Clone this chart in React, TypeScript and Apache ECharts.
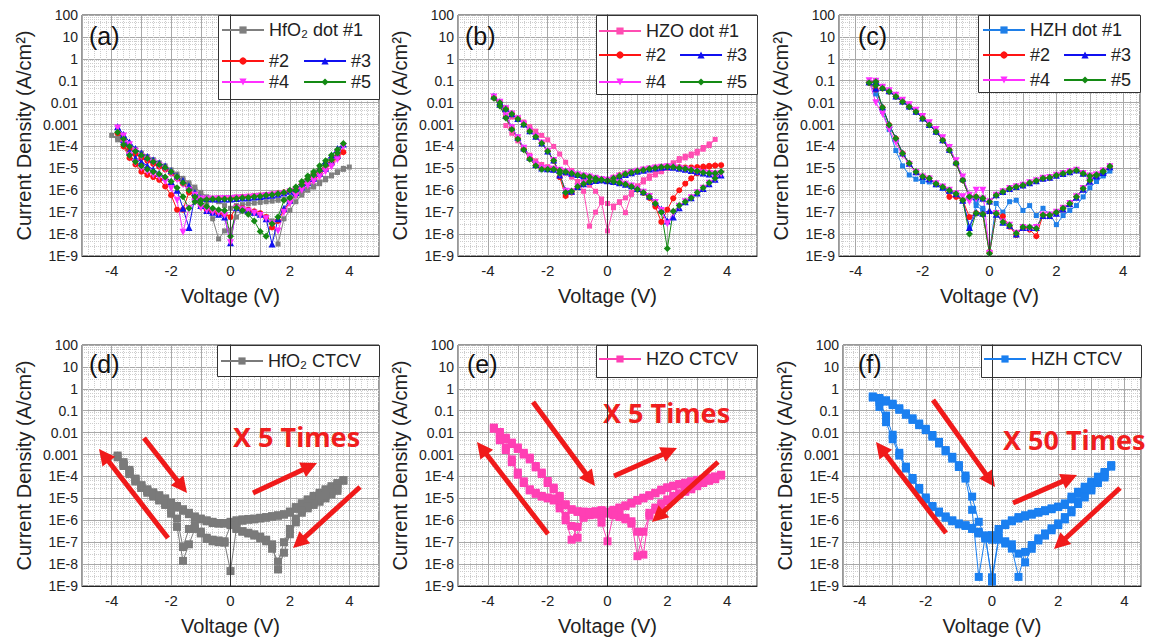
import React, { useEffect, useRef } from 'react';
import * as echarts from 'echarts';

// ---------- voltage sweeps (0 -> +Vmax -> 0 -> -Vmax -> 0) ----------
const X40 = [0,0.2,0.4,0.6,0.8,1,1.2,1.4,1.6,1.8,2,2.2,2.4,2.6,2.8,3,3.2,3.4,3.6,3.8,4,
  3.8,3.6,3.4,3.2,3,2.8,2.6,2.4,2.2,2,1.8,1.6,1.4,1.2,1,0.8,0.6,0.4,0.2,0,
  -0.2,-0.4,-0.6,-0.8,-1,-1.2,-1.4,-1.6,-1.8,-2,-2.2,-2.4,-2.6,-2.8,-3,-3.2,-3.4,-3.6,-3.8,-4,
  -3.8,-3.6,-3.4,-3.2,-3,-2.8,-2.6,-2.4,-2.2,-2,-1.8,-1.6,-1.4,-1.2,-1,-0.8,-0.6,-0.4,-0.2];
const X38 = [0,0.2,0.4,0.6,0.8,1,1.2,1.4,1.6,1.8,2,2.2,2.4,2.6,2.8,3,3.2,3.4,3.6,3.8,
  3.6,3.4,3.2,3,2.8,2.6,2.4,2.2,2,1.8,1.6,1.4,1.2,1,0.8,0.6,0.4,0.2,0,
  -0.2,-0.4,-0.6,-0.8,-1,-1.2,-1.4,-1.6,-1.8,-2,-2.2,-2.4,-2.6,-2.8,-3,-3.2,-3.4,-3.6,-3.8,
  -3.6,-3.4,-3.2,-3,-2.8,-2.6,-2.4,-2.2,-2,-1.8,-1.6,-1.4,-1.2,-1,-0.8,-0.6,-0.4,-0.2];
const X36 = [0,0.2,0.4,0.6,0.8,1,1.2,1.4,1.6,1.8,2,2.2,2.4,2.6,2.8,3,3.2,3.4,3.6,
  3.4,3.2,3,2.8,2.6,2.4,2.2,2,1.8,1.6,1.4,1.2,1,0.8,0.6,0.4,0.2,0,
  -0.2,-0.4,-0.6,-0.8,-1,-1.2,-1.4,-1.6,-1.8,-2,-2.2,-2.4,-2.6,-2.8,-3,-3.2,-3.4,-3.6,
  -3.4,-3.2,-3,-2.8,-2.6,-2.4,-2.2,-2,-1.8,-1.6,-1.4,-1.2,-1,-0.8,-0.6,-0.4,-0.2];
const XP = [0,0.2,0.4,0.6,0.8,1,1.2,1.4,1.6,1.8,2,2.2,2.4,2.6,2.8,3,3.2,3.4,3.6,
  3.4,3.2,3,2.8,2.6,2.4,2.2,2,1.8,1.6,1.4,1.2,1,0.8,0.6,0.4,0.2,0,
  -0.2,-0.4,-0.6,-0.8,-1,-1.2,-1.4,-1.6,-1.8,-2,-2.2,-2.4,-2.6,-2.8,-3,-3.2,-3.4,
  -3.2,-3,-2.8,-2.6,-2.4,-2.2,-2,-1.8,-1.6,-1.4,-1.2,-1,-0.8,-0.6,-0.4,-0.2];

// ---------- (a) HfO2 dots ----------
const A_D1 = [1.5e-7,2e-7,2.2e-7,2.4e-7,2.6e-7,2.8e-7,3e-7,3.2e-7,3.5e-7,3.8e-7,4.2e-7,5.5e-7,7.5e-7,1e-6,1.4e-6,2e-6,3e-6,4.5e-6,6.5e-6,9e-6,1.15e-5,
  1e-5,7e-6,5e-6,3.5e-6,2.4e-6,1.6e-6,1.1e-6,6e-7,3e-7,1.2e-7,5e-8,3.5e-9,4e-8,6e-8,8e-8,9e-8,1e-7,1.1e-7,6e-8,1.5e-8,
  1.4e-8,6e-9,5e-8,2.5e-7,6e-7,1.1e-6,1.8e-6,2.8e-6,4.2e-6,6.5e-6,1e-5,1.4e-5,2e-5,2.8e-5,4e-5,5.5e-5,8e-5,1.3e-4,2e-4,3.2e-4,
  2.5e-4,1.7e-4,1.1e-4,7e-5,5e-5,3.5e-5,2.5e-5,1.8e-5,1.3e-5,8.5e-6,5.5e-6,3.5e-6,2.2e-6,1.4e-6,8e-7,5e-7,4e-7,3e-7,2e-7];
const A_D2 = [4.5e-7,4.7e-7,5e-7,5.2e-7,5.5e-7,5.8e-7,6.2e-7,6.6e-7,7.2e-7,8e-7,9.5e-7,1.2e-6,1.8e-6,3e-6,5e-6,8e-6,1.3e-5,2e-5,3.5e-5,5.5e-5,
  3e-5,1.6e-5,9e-6,5e-6,3e-6,2e-6,1.3e-6,7e-7,3e-7,1.2e-7,4e-8,2e-8,6e-8,9e-8,1.1e-7,1.3e-7,1.5e-7,1.7e-7,6e-8,
  8e-8,9e-8,1.1e-7,1.3e-7,1.8e-7,4e-7,8e-7,1.3e-7,1.3e-7,6e-7,1.5e-6,3e-6,4e-6,5e-6,7e-6,1.5e-5,3e-5,1e-4,4e-4,
  2e-4,8e-5,4.5e-5,3e-5,2.2e-5,1.6e-5,1.2e-5,9e-6,6e-6,3.5e-6,2e-6,1e-6,5e-7,3.5e-7,4e-7,4.2e-7,4.3e-7,4.4e-7];
const A_D3 = [4e-7,4.2e-7,4.4e-7,4.6e-7,4.9e-7,5.2e-7,5.6e-7,6e-7,6.6e-7,7.5e-7,9e-7,1.2e-6,2e-6,3.5e-6,6e-6,1e-5,2e-5,4e-5,8e-5,1.3e-4,
  4e-5,2e-5,1e-5,6e-6,3.5e-6,2.2e-6,1.4e-6,8e-7,3.5e-7,1.5e-7,5e-8,3.5e-9,5e-8,8e-8,1e-7,1.2e-7,1.4e-7,1.6e-7,4e-9,
  6e-8,8e-8,1e-7,1.2e-7,2e-7,5e-7,2e-8,1.5e-7,1e-6,2.5e-6,4e-6,6e-6,9e-6,1.3e-5,2e-5,3e-5,6e-5,2e-4,8e-4,
  3.5e-4,1.6e-4,8e-5,5e-5,3.5e-5,2.5e-5,1.8e-5,1.3e-5,8e-6,4.5e-6,2.8e-6,1.6e-6,8e-7,4.5e-7,4.2e-7,4e-7,4e-7,4e-7];
const A_D4 = [4.2e-7,4.4e-7,4.6e-7,4.8e-7,5e-7,5.3e-7,5.7e-7,6.1e-7,6.6e-7,7.2e-7,8.5e-7,1e-6,1.4e-6,2.2e-6,3.5e-6,6e-6,1e-5,2e-5,4.5e-5,1e-4,
  2.5e-5,1.2e-5,7e-6,4e-6,2.5e-6,1.6e-6,1e-6,5.5e-7,2.5e-7,1e-7,1.4e-8,3e-8,5e-8,7e-8,9e-8,1.1e-7,1.3e-7,1.5e-7,4e-9,
  7e-8,9e-8,1e-7,1.2e-7,1.6e-7,3e-7,1.5e-7,1.2e-8,3.5e-7,1.2e-6,2.5e-6,4e-6,5e-6,7e-6,1e-5,1.8e-5,4e-5,1.5e-4,7e-4,
  3e-4,1.2e-4,6e-5,3.5e-5,2.5e-5,1.8e-5,1.3e-5,9e-6,5.5e-6,3e-6,1.8e-6,1e-6,6e-7,4e-7,4e-7,4e-7,4.1e-7,4.2e-7];
const A_D5 = [4e-7,4.2e-7,4.5e-7,4.7e-7,5e-7,5.4e-7,5.9e-7,6.3e-7,7e-7,8e-7,1e-6,1.4e-6,2.5e-6,4.5e-6,7e-6,1.3e-5,2.2e-5,4e-5,7e-5,1.35e-4,
  5e-5,2.5e-5,1.4e-5,8e-6,5e-6,3.2e-6,1.8e-6,1e-6,4.5e-7,3.5e-7,6e-8,3e-8,8e-9,1.3e-8,4e-8,8e-8,1.2e-7,1.6e-7,8e-9,
  1.2e-7,1.3e-7,1.5e-7,1.8e-7,2.5e-7,3e-7,1.5e-7,5e-7,1.3e-6,2.5e-6,4e-6,5.5e-6,7e-6,9e-6,1.3e-5,2e-5,4e-5,1.2e-4,4.5e-4,
  2.2e-4,1e-4,6e-5,4e-5,2.8e-5,2e-5,1.5e-5,1.1e-5,7e-6,4e-6,2.2e-6,1e-6,5e-7,3.5e-7,3.8e-7,4e-7,4e-7,4e-7];

// ---------- (b) HZO dots ----------
const B_D1 = [2.5e-7,1.9e-7,2.8e-7,9.5e-8,6.5e-7,1.6e-6,3e-6,4.5e-6,6e-6,8e-6,1.1e-5,1.8e-5,2.8e-5,3.6e-5,4.5e-5,6e-5,9e-5,1.3e-4,2.1e-4,
  1.1e-4,7.5e-5,5e-5,3.8e-5,3e-5,2.3e-5,1.6e-5,1e-5,7e-6,5e-6,3.5e-6,2.4e-6,1.4e-6,8e-7,4.5e-7,3e-7,1.6e-7,1.4e-8,
  2.8e-7,1e-7,2.3e-8,9e-7,2.5e-6,4e-6,6e-6,8e-6,1e-5,1.2e-5,1.5e-5,2.2e-5,4e-5,9e-5,1.8e-4,4e-4,9e-4,
  2.2e-3,1.7e-3,1.3e-3,8e-4,5e-4,3.2e-4,2e-4,1e-4,4.5e-5,1.9e-5,8e-6,5e-6,3e-6,1.7e-6,9e-7,4e-7];
const B_D2 = [3e-6,3.8e-6,4.8e-6,5.8e-6,6.8e-6,7.8e-6,8.8e-6,9.8e-6,1.08e-5,1.18e-5,1.25e-5,1.2e-5,1.15e-5,1.1e-5,1.1e-5,1.15e-5,1.2e-5,1.3e-5,1.35e-5,1.4e-5,
  1.35e-5,1.2e-5,9e-6,6e-6,3.5e-6,2e-6,1e-6,4.3e-7,1.3e-7,3.6e-8,1.8e-7,4.5e-7,7.5e-7,1.1e-6,1.5e-6,1.9e-6,2.2e-6,2.5e-6,2.7e-6,
  3e-6,3.5e-6,4e-6,4.5e-6,5e-6,6e-6,7e-6,8e-6,9e-6,9.5e-6,1e-5,1.4e-5,2.8e-5,7.5e-5,2.3e-4,6.5e-4,2.2e-3,7.5e-3,1.7e-2,
  1.1e-2,5.5e-3,3.2e-3,1.9e-3,1.05e-3,5.2e-4,2.9e-4,1.45e-4,6.2e-5,2.2e-5,4e-6,5.5e-7,8e-7,1.4e-6,1.9e-6,2.4e-6,2.7e-6,2.9e-6];
const B_D3 = [2.8e-6,3.4e-6,4.3e-6,5.3e-6,6.3e-6,7.3e-6,8.3e-6,9.3e-6,1.03e-5,1.12e-5,1.18e-5,1.12e-5,1e-5,9e-6,8e-6,7e-6,6.2e-6,5.6e-6,5.2e-6,5e-6,
  3.2e-6,2e-6,1.2e-6,7.5e-7,4.5e-7,3e-7,1.6e-7,6e-8,4e-8,1.4e-7,3e-7,5.5e-7,8.5e-7,1.2e-6,1.6e-6,1.9e-6,2.2e-6,2.5e-6,2.7e-6,
  3e-6,3.5e-6,4e-6,4.6e-6,5.2e-6,6e-6,7e-6,8.2e-6,9e-6,9.5e-6,1.05e-5,1.5e-5,3.2e-5,8.5e-5,2.6e-4,7.5e-4,2.6e-3,8.5e-3,2e-2,
  1.1e-2,5.5e-3,3.1e-3,1.9e-3,1.05e-3,5.2e-4,2.9e-4,1.45e-4,6.2e-5,2.4e-5,5e-6,1e-6,9e-7,1.5e-6,2e-6,2.5e-6,2.8e-6,3e-6];
const B_D4 = [2.9e-6,3.5e-6,4.4e-6,5.4e-6,6.4e-6,7.4e-6,8.4e-6,9.4e-6,1.04e-5,1.13e-5,1.19e-5,1.13e-5,1.02e-5,9.2e-6,8.2e-6,7.2e-6,6.3e-6,5.8e-6,5.5e-6,5.5e-6,
  3.3e-6,2.1e-6,1.25e-6,7.8e-7,4.6e-7,3e-7,1.8e-7,9e-8,3e-8,1.2e-7,2.8e-7,5.2e-7,8.2e-7,1.15e-6,1.55e-6,1.9e-6,2.2e-6,2.5e-6,2.7e-6,
  3e-6,3.5e-6,4e-6,4.5e-6,5.1e-6,6e-6,7e-6,8.1e-6,9e-6,9.3e-6,1.02e-5,1.45e-5,3.1e-5,8.2e-5,2.5e-4,7.2e-4,2.5e-3,8.2e-3,1.8e-2,
  1.05e-2,5.2e-3,3e-3,1.85e-3,1.02e-3,5.1e-4,2.85e-4,1.42e-4,6.1e-5,2.3e-5,5.5e-6,9e-7,8.5e-7,1.45e-6,2e-6,2.5e-6,2.8e-6,3e-6];
const B_D5 = [2.8e-6,3.5e-6,4.5e-6,5.5e-6,6.5e-6,7.5e-6,8.5e-6,9.5e-6,1.05e-5,1.15e-5,1.2e-5,1.15e-5,1.05e-5,9.5e-6,8.5e-6,7.5e-6,6.5e-6,6e-6,6e-6,7e-6,
  3.5e-6,2.2e-6,1.3e-6,8e-7,4.5e-7,3e-7,2e-7,1.1e-7,2.2e-9,1e-7,2.5e-7,5e-7,8e-7,1.1e-6,1.5e-6,1.9e-6,2.2e-6,2.5e-6,2.7e-6,
  3e-6,3.5e-6,4e-6,4.5e-6,5e-6,6e-6,7e-6,8e-6,9e-6,9e-6,9e-6,1.3e-5,2.6e-5,7e-5,2.2e-4,6e-4,2e-3,7e-3,1.6e-2,
  1e-2,5e-3,3e-3,1.8e-3,1e-3,5e-4,2.8e-4,1.4e-4,6e-5,2.3e-5,6e-6,8e-7,9e-7,1.5e-6,2e-6,2.5e-6,2.8e-6,3e-6];

// ---------- (c) HZH dots ----------
const C_D1 = [3e-7,6e-7,8.5e-7,1.2e-6,1.45e-6,1.7e-6,2.2e-6,2.7e-6,3.5e-6,3.8e-6,4.9e-6,5.9e-6,7e-6,8.3e-6,5.9e-6,4e-6,4e-6,5e-6,7.5e-6,
  4.5e-6,2.5e-6,1.3e-6,5e-7,2e-7,1.2e-7,7e-8,2.7e-8,8e-8,1.5e-7,7e-8,2e-7,1.2e-7,3.5e-7,3e-7,1e-7,2.5e-7,1.5e-9,
  1.2e-7,2e-7,2e-8,3.5e-7,6e-7,9e-7,1.2e-6,1.8e-6,2.4e-6,2.5e-6,3.2e-6,5e-6,1.3e-5,6.5e-5,6e-4,4e-3,2.5e-2,8e-2,
  9e-2,4.5e-2,3.2e-2,1.9e-2,1.1e-2,6.5e-3,3.8e-3,1.9e-3,9.5e-4,4.7e-4,1.9e-4,6.8e-5,1.7e-5,2.9e-6,5e-7,3e-7,1.5e-7];
const C_D2 = [3e-7,6e-7,8.5e-7,1.2e-6,1.45e-6,1.7e-6,2.2e-6,2.7e-6,3.5e-6,3.8e-6,4.9e-6,5.9e-6,7e-6,8.3e-6,5.9e-6,4.5e-6,5e-6,7.5e-6,1.2e-5,
  7e-6,4.8e-6,2.8e-6,1.2e-6,5e-7,2.5e-7,1.5e-7,1e-7,7.5e-8,7.5e-8,8e-9,1.6e-8,2e-8,9e-9,2.2e-8,6.5e-8,9e-8,1.5e-9,
  8e-8,9e-8,6e-8,3.5e-7,5e-7,5e-7,1.4e-6,2e-6,3.5e-6,4.2e-6,7e-6,1.7e-5,4.8e-5,2.3e-4,9.5e-4,6e-3,4e-2,8e-2,
  9e-2,4.5e-2,3.2e-2,1.9e-2,1.1e-2,6.5e-3,3.8e-3,1.9e-3,9.5e-4,4.7e-4,1.9e-4,6.8e-5,1.7e-5,2.9e-6,5e-7,5e-7,4.3e-7];
const C_D3 = [3.2e-7,6.2e-7,8.8e-7,1.2e-6,1.5e-6,1.75e-6,2.2e-6,2.7e-6,3.5e-6,3.9e-6,4.9e-6,5.9e-6,7e-6,8.5e-6,6e-6,4.6e-6,5e-6,7.5e-6,1.2e-5,
  6.5e-6,4.5e-6,2.6e-6,1.1e-6,4.8e-7,2.4e-7,1.4e-7,9e-8,7e-8,7e-8,2e-8,2e-8,2e-8,1e-8,2.5e-8,3.5e-8,8e-8,1.2e-7,
  9e-8,1e-7,2e-8,3.5e-7,7e-7,1e-6,1.4e-6,2e-6,3.4e-6,4.2e-6,7e-6,1.7e-5,5e-5,2.4e-4,1e-3,6.5e-3,4.5e-2,9e-2,
  9.5e-2,5e-2,3.5e-2,2e-2,1.2e-2,7e-3,4e-3,2e-3,1e-3,5e-4,2e-4,7.5e-5,2e-5,3.5e-6,6e-7,5e-7,4.3e-7];
const C_D4 = [3e-7,6e-7,8.5e-7,1.2e-6,1.45e-6,1.7e-6,2.2e-6,2.7e-6,3.5e-6,3.8e-6,4.9e-6,5.9e-6,7e-6,8.3e-6,5.9e-6,4.5e-6,5e-6,7.5e-6,1.2e-5,
  7e-6,4.8e-6,2.8e-6,1.2e-6,5e-7,2.5e-7,1.5e-7,1e-7,7.5e-8,7.5e-8,2e-8,1.8e-8,2e-8,1.1e-8,2.5e-8,3.6e-8,8.7e-8,1.3e-9,
  1e-6,1e-6,3e-7,5e-7,7e-7,1e-6,1.4e-6,2e-6,3.3e-6,4e-6,6.5e-6,1.5e-5,4e-5,1.5e-4,6e-4,3e-3,1e-2,1e-1,
  9.5e-2,5e-2,3.5e-2,2.2e-2,1.3e-2,8e-3,4.5e-3,2.3e-3,1.2e-3,6e-4,2.5e-4,9e-5,2.2e-5,4e-6,6e-7,4e-7,4e-7];
const C_D5 = [3e-7,6e-7,8.5e-7,1.2e-6,1.45e-6,1.7e-6,2.2e-6,2.7e-6,3.5e-6,3.8e-6,4.9e-6,5.9e-6,7e-6,8.3e-6,5.9e-6,4.5e-6,5e-6,7.5e-6,1.25e-5,
  7e-6,5e-6,2.9e-6,1.2e-6,5e-7,2.5e-7,1.5e-7,1e-7,7.4e-8,7.4e-8,1.8e-8,2.1e-8,2.1e-8,1.1e-8,2.5e-8,3.6e-8,8.7e-8,1.3e-9,
  8e-8,9e-8,1e-8,3.5e-7,7e-7,1e-6,1.4e-6,2e-6,3.5e-6,4.2e-6,7e-6,1.7e-5,4.8e-5,2.3e-4,9.5e-4,6e-3,6e-2,8e-2,
  9e-2,4.5e-2,3.2e-2,1.9e-2,1.1e-2,6.5e-3,3.8e-3,1.9e-3,9.5e-4,4.7e-4,1.9e-4,6.8e-5,1.7e-5,2.9e-6,5e-7,5e-7,4.3e-7];

// ---------- (d) HfO2 CTCV, two overlaid loops ----------
const D_L1 = [8.5e-7,1e-6,1.1e-6,1.15e-6,1.2e-6,1.3e-6,1.4e-6,1.55e-6,1.7e-6,1.9e-6,2.2e-6,3.3e-6,5e-6,8e-6,1.1e-5,1.5e-5,2.2e-5,3e-5,4.4e-5,6.3e-5,
  2.2e-5,1.5e-5,1e-5,7e-6,5e-6,3.5e-6,2.2e-6,8e-7,2.3e-7,3.3e-8,5.7e-9,8e-8,1.3e-7,1.8e-7,2.3e-7,2.7e-7,3.2e-7,4.5e-7,4.8e-9,
  9.5e-8,1e-7,1.1e-7,1.4e-7,2.5e-7,4e-7,8e-8,1.4e-8,5e-7,2e-6,5e-6,8e-6,1.2e-5,1.8e-5,3e-5,6e-5,1.5e-4,3.5e-4,7.5e-4,
  3e-4,1.3e-4,6e-5,3e-5,2.2e-5,1.6e-5,1.2e-5,8e-6,5.5e-6,3.8e-6,2.7e-6,1.9e-6,1.3e-6,1.1e-6,9e-7,7.5e-7,7e-7,7e-7];
const D_L2 = [7e-7,8.5e-7,9.5e-7,1.05e-6,1.1e-6,1.2e-6,1.3e-6,1.45e-6,1.6e-6,1.8e-6,2.5e-6,4e-6,6e-6,9e-6,1.3e-5,1.8e-5,2.6e-5,3.6e-5,5e-5,6.8e-5,
  2.8e-5,1.9e-5,1.3e-5,9e-6,6e-6,4.2e-6,2.8e-6,1.2e-6,4e-7,1e-7,1.3e-8,5e-8,1.1e-7,1.5e-7,2e-7,2.5e-7,3e-7,4e-7,6e-7,
  1.1e-7,1.2e-7,1.3e-7,1.6e-7,3e-7,6e-7,4e-7,6e-8,1.2e-6,3e-6,6e-6,9e-6,1.4e-5,2.2e-5,4e-5,8e-5,2e-4,4.5e-4,9e-4,
  3.5e-4,1.6e-4,7.5e-5,3.8e-5,2.6e-5,1.9e-5,1.4e-5,1e-5,6.5e-6,4.5e-6,3.2e-6,2.2e-6,1.5e-6,1.2e-6,1e-6,8.5e-7,7.5e-7,7.5e-7];

// ---------- (e) HZO CTCV ----------
const E_L1 = [2.5e-6,3e-6,3.8e-6,4.8e-6,6.3e-6,8.5e-6,1.07e-5,1.4e-5,1.8e-5,2.5e-5,3.2e-5,3.8e-5,4.5e-5,5.2e-5,6e-5,7e-5,7.8e-5,8.8e-5,1e-4,1.2e-4,
  7.5e-5,6.3e-5,5e-5,3.6e-5,2.6e-5,2e-5,1.5e-5,1.1e-5,7.5e-6,5e-6,3e-6,1.6e-6,3e-7,2.3e-8,9e-7,1.3e-6,1.6e-6,1.9e-6,1.1e-7,
  7.8e-7,1.8e-6,1.7e-6,1.6e-6,1.6e-7,5.5e-7,1.6e-6,5e-6,1e-5,1.1e-5,1.3e-5,1.8e-5,2.6e-5,6e-5,1.5e-4,6e-4,2.1e-3,5.4e-3,1.7e-2,
  1.07e-2,5.9e-3,3.5e-3,2.1e-3,1.2e-3,7.2e-4,3e-4,1.5e-4,6.2e-5,3.1e-5,1.3e-5,5.4e-6,3.2e-6,2.6e-6,2.5e-6,2.4e-6,2.6e-6,2.9e-6];
const E_L2 = [2.2e-6,2.8e-6,3.5e-6,4.4e-6,5.8e-6,7.8e-6,1e-5,1.3e-5,1.7e-5,2.3e-5,3e-5,3.6e-5,4.3e-5,5e-5,5.8e-5,6.8e-5,7.6e-5,8.5e-5,9.6e-5,1.1e-4,
  8e-5,6.8e-5,5.5e-5,4e-5,3e-5,2.3e-5,1.7e-5,1.3e-5,9e-6,6e-6,3.8e-6,2.2e-6,2.7e-8,3e-7,7e-7,1.1e-6,1.4e-6,1.7e-6,2e-6,
  1.5e-6,2e-6,1.9e-6,1.3e-6,5e-7,1.3e-7,1e-6,3.5e-6,8e-6,1e-5,1.2e-5,1.6e-5,2.3e-5,5e-5,1.2e-4,4.5e-4,1.6e-3,4.5e-3,1.5e-2,
  9e-3,5e-3,3e-3,1.8e-3,1e-3,6e-4,2.6e-4,1.3e-4,5e-5,2.6e-5,1.1e-5,4.8e-6,3e-6,2.4e-6,2.2e-6,2.2e-6,2.4e-6,2.7e-6];

// ---------- (f) HZH CTCV ----------
const F_L1 = [2.1e-7,3e-7,7e-7,1e-6,1.4e-6,1.7e-6,2e-6,2.4e-6,2.9e-6,3.5e-6,4.2e-6,5.9e-6,1.2e-5,2e-5,3.4e-5,5.8e-5,9.8e-5,1.6e-4,3.3e-4,
  1.1e-4,6e-5,2.8e-5,1.4e-5,6.9e-6,2.9e-6,1.4e-6,7.2e-7,4.3e-7,2.5e-7,1.5e-7,7.4e-8,3.6e-8,2.6e-9,5.1e-8,8.7e-8,1.3e-7,1.6e-9,
  2e-7,3e-7,4.5e-7,6e-7,7.2e-7,1e-6,1.5e-6,2.5e-6,4.5e-6,1.1e-5,3e-5,8.5e-5,2.8e-4,1.2e-3,8e-3,6e-2,2.5e-1,4.5e-1,
  3.8e-1,3e-1,2.1e-1,1.3e-1,7.6e-2,4.5e-2,2.6e-2,1.5e-2,7.8e-3,3.8e-3,1.6e-3,7.9e-4,3.3e-4,1.1e-4,1.2e-5,8.5e-7,1.5e-7];
const F_L2 = [1.3e-7,4e-7,6e-7,9e-7,1.2e-6,1.5e-6,1.8e-6,2.2e-6,2.6e-6,3.2e-6,4e-6,5e-6,9e-6,1.6e-5,2.8e-5,4.8e-5,8e-5,1.4e-4,2.8e-4,
  9e-5,5e-5,2.3e-5,1.1e-5,5.5e-6,2.3e-6,1.1e-6,6e-7,3.5e-7,2e-7,1.2e-7,5e-8,1.2e-8,3e-8,8e-8,1.1e-7,1.6e-7,2.5e-9,
  1.5e-7,2.5e-7,4e-7,5.5e-7,6.5e-7,9e-7,1.3e-6,2.2e-6,4e-6,9e-6,2.5e-5,7e-5,2.3e-4,9e-4,5e-3,3e-2,1.5e-1,4e-1,
  3.3e-1,2.6e-1,1.8e-1,1.1e-1,6.5e-2,3.8e-2,2.2e-2,1.3e-2,6.5e-3,3.2e-3,1.4e-3,6.5e-4,2.7e-4,8e-5,3e-6,2.6e-9,2e-7];

const LABEL_NAMES = ['(a)', '(b)', '(c)', '(d)', '(e)', '(f)'];

const FONT = '"Liberation Sans", Arial, Helvetica, sans-serif';

const PANELS = [
  { left: 82, top: 15, width: 297, height: 241, xMin: -5, xMax: 5 },
  { left: 458, top: 15, width: 299, height: 241, xMin: -5, xMax: 5 },
  { left: 839, top: 15, width: 301, height: 241, xMin: -4.5, xMax: 4.5 },
  { left: 82, top: 345, width: 297, height: 241, xMin: -5, xMax: 5 },
  { left: 458, top: 345, width: 299, height: 241, xMin: -5, xMax: 5 },
  { left: 843, top: 345, width: 298, height: 241, xMin: -4.5, xMax: 4.5 },
];

const STY: Record<string, any> = {
  gray: { color: '#7f7f7f', symbol: 'rect', size: 5 },
  red: { color: '#ff1414', symbol: 'circle', size: 6 },
  blue: { color: '#1010f0', symbol: 'triangle', size: 7 },
  mag: { color: '#ff30ff', symbol: 'triangle', size: 7, rotate: 180 },
  green: { color: '#148a14', symbol: 'diamond', size: 7 },
  pink: { color: '#ff4db2', symbol: 'rect', size: 5 },
  hzh: { color: '#1f7fe8', symbol: 'rect', size: 5 },
  cGray: { color: '#7a7a7a', symbol: 'rect', size: 8 },
  cPink: { color: '#ff3fb4', symbol: 'rect', size: 8 },
  cBlue: { color: '#1a7ff0', symbol: 'rect', size: 8 },
};

function pairs(xs: number[], ys: number[]) {
  const n = Math.min(xs.length, ys.length);
  const out: number[][] = [];
  for (let i = 0; i < n; i++) out.push([xs[i], ys[i]]);
  return out;
}

function mk(name: string, g: number, data: number[][], s: any, zeroLine = false) {
  const ser: any = {
    type: 'line', name, xAxisIndex: g, yAxisIndex: g, data,
    symbol: s.symbol, symbolSize: s.size, symbolRotate: s.rotate || 0,
    itemStyle: { color: s.color },
    lineStyle: { color: s.color, width: 1 },
    showSymbol: true, animation: false, z: 2,
  };
  if (zeroLine) {
    ser.markLine = {
      silent: true, symbol: ['none', 'none'], label: { show: false },
      lineStyle: { color: '#333', width: 1, type: 'solid' },
      data: [{ xAxis: 0 }], animation: false,
    };
  }
  return ser;
}

const fmtY = (v: number) => {
  const e = Math.round(Math.log10(v));
  if (e >= 0) return String(Math.pow(10, e));
  if (e >= -3) return Math.pow(10, e).toFixed(-e);
  return '1E' + e;
};
const fmtX = (v: number) => {
  const r = Math.round(v);
  return Math.abs(v - r) < 1e-6 && r % 2 === 0 && Math.abs(r) <= 4 ? String(r) : '';
};

const ARROWS = [
  [168, 538, 99, 449], [144, 438, 187, 493], [253, 493, 317, 463], [360, 487, 293, 548],
  [548, 534, 477, 442], [533, 402, 595, 486], [614, 476, 677, 448], [718, 462, 652, 522],
  [946, 533, 876, 442], [933, 400, 995, 487], [1013, 503, 1077, 475], [1120, 488, 1054, 549],
];
const BOXES = [
  [218, 15, 161, 84], [596, 15, 161, 79], [978, 15, 162, 77],
  [217, 345, 162, 31], [596, 345, 161, 32], [981, 345, 160, 32],
];
const LABEL_POS = [[89, 36], [465, 36], [858, 36], [89, 364], [467, 364], [858, 364]];
const TIMES = [
  { text: 'X 5 Times', x: 233, y: 436 },
  { text: 'X 5 Times', x: 603, y: 412 },
  { text: 'X 50 Times', x: 1003, y: 439 },
];

function buildOption() {
  const grid = PANELS.map(p => ({
    left: p.left, top: p.top, width: p.width, height: p.height,
    show: true, borderColor: '#333', borderWidth: 1, backgroundColor: '#fff',
  }));
  const xAxis = PANELS.map((p, i) => {
    const ax: any = {
      type: 'value', gridIndex: i, min: p.xMin, max: p.xMax,
      axisLine: { show: true, onZero: false, lineStyle: { color: '#222' } },
      axisTick: { show: false },
      axisLabel: { fontSize: 15, color: '#222', margin: 7, fontFamily: FONT, formatter: fmtX },
      splitLine: { show: true, lineStyle: { color: '#a8a8a8', width: 1 } },
      minorTick: { show: false, splitNumber: 5 },
      minorSplitLine: { show: true, lineStyle: { color: '#cdcdcd', width: 1, type: 'dotted' } },
      name: 'Voltage (V)', nameLocation: 'middle', nameGap: 30,
      nameTextStyle: { fontSize: 20, color: '#222', fontFamily: FONT },
    };
    if (p.xMin === -5) ax.interval = 1; else ax.splitNumber = 9;
    return ax;
  });
  const yAxis = PANELS.map((p, i) => ({
    type: 'log', logBase: 10, gridIndex: i, min: 1e-9, max: 100, interval: 1, splitNumber: 11,
    axisLine: { show: true, lineStyle: { color: '#222' } },
    axisTick: { show: false },
    axisLabel: { fontSize: 14, color: '#222', margin: 4, fontFamily: FONT, formatter: fmtY },
    splitLine: { show: true, lineStyle: { color: '#a8a8a8', width: 1 } },
    minorTick: { show: false, splitNumber: 5 },
    minorSplitLine: { show: true, lineStyle: { color: '#cdcdcd', width: 1, type: 'dotted' } },
    name: 'Current Density (A/cm²)', nameLocation: 'middle', nameGap: 48, nameRotate: 90,
    nameTextStyle: { fontSize: 20, color: '#222', fontFamily: FONT },
  }));

  const series = [
    mk('HfO₂ dot #1', 0, pairs(X40, A_D1), STY.gray, true),
    mk('#2', 0, pairs(X38, A_D2), STY.red),
    mk('#3', 0, pairs(X38, A_D3), STY.blue),
    mk('#4', 0, pairs(X38, A_D4), STY.mag),
    mk('#5', 0, pairs(X38, A_D5), STY.green),
    mk('HZO dot #1', 1, pairs(XP, B_D1), STY.pink, true),
    mk('#2', 1, pairs(X38, B_D2), STY.red),
    mk('#3', 1, pairs(X38, B_D3), STY.blue),
    mk('#4', 1, pairs(X38, B_D4), STY.mag),
    mk('#5', 1, pairs(X38, B_D5), STY.green),
    mk('HZH dot #1', 2, pairs(X36, C_D1), STY.hzh, true),
    mk('#2', 2, pairs(X36, C_D2), STY.red),
    mk('#3', 2, pairs(X36, C_D3), STY.blue),
    mk('#4', 2, pairs(X36, C_D4), STY.mag),
    mk('#5', 2, pairs(X36, C_D5), STY.green),
    mk('HfO₂ CTCV', 3, pairs(X38, D_L1).concat(pairs(X38, D_L2)), STY.cGray, true),
    mk('HZO CTCV', 4, pairs(X38, E_L1).concat(pairs(X38, E_L2)), STY.cPink, true),
    mk('HZH CTCV', 5, pairs(X36, F_L1).concat(pairs(X36, F_L2)), STY.cBlue, true),
  ];

  const lg = (left: number, top: number, data: string[], gap = 14) => ({
    left, top, padding: 0, itemWidth: 42, itemHeight: 9, itemGap: gap, data,
    selectedMode: false, z: 6,
    textStyle: { fontSize: 18, color: '#222', fontFamily: FONT, lineHeight: 20 },
  });
  const legend = [
    lg(221, 20, ['HfO₂ dot #1']), lg(221, 51, ['#2', '#3']), lg(221, 72, ['#4', '#5']),
    lg(598, 21, ['HZO dot #1']), lg(598, 45, ['#2', '#3'], 13), lg(598, 72, ['#4', '#5'], 13),
    lg(982, 20, ['HZH dot #1']), lg(982, 45, ['#2', '#3'], 13), lg(982, 70, ['#4', '#5'], 13),
    lg(220, 351, ['HfO₂ CTCV']), lg(598, 349, ['HZO CTCV']), lg(983, 349, ['HZH CTCV']),
  ];

  const graphic: any[] = [];
  BOXES.forEach(b => graphic.push({
    type: 'rect', z: 3, silent: true,
    shape: { x: b[0] + 0.5, y: b[1] + 0.5, width: b[2], height: b[3] },
    style: { fill: '#fff', stroke: '#333', lineWidth: 1 },
  }));
  LABEL_NAMES.forEach((t, i) => graphic.push({
    type: 'text', z: 5, silent: true, x: LABEL_POS[i][0], y: LABEL_POS[i][1],
    style: { text: t, fontSize: 25, fill: '#111', fontFamily: FONT, verticalAlign: 'middle', align: 'left' },
  }));
  TIMES.forEach(t => graphic.push({
    type: 'text', z: 5, silent: true, x: t.x, y: t.y,
    style: { text: t.text, fontSize: 27, fontWeight: 'bold', fill: '#f01e1e', fontFamily: '"Noto Sans", "Open Sans", sans-serif', verticalAlign: 'middle', align: 'left' },
  }));
  const RED = '#f01a1a';
  ARROWS.forEach(a => {
    const [x1, y1, x2, y2] = a;
    const dx = x2 - x1, dy = y2 - y1;
    const len = Math.sqrt(dx * dx + dy * dy);
    const ux = dx / len, uy = dy / len;
    const nx = -uy, ny = ux;
    const L = 16, W = 8;
    const bx = x2 - ux * L, by = y2 - uy * L;
    graphic.push({
      type: 'group', z: 5, silent: true,
      children: [
        { type: 'line', z: 5, shape: { x1, y1, x2: bx + ux * 2, y2: by + uy * 2 }, style: { stroke: RED, lineWidth: 5 } },
        { type: 'polygon', z: 5, shape: { points: [[x2, y2], [bx + nx * W, by + ny * W], [bx - nx * W, by - ny * W]] }, style: { fill: RED } },
      ],
    });
  });

  return { animation: false, backgroundColor: '#fff', grid, xAxis, yAxis, series, legend, graphic };
}

export default function App() {
  const ref = useRef<HTMLDivElement>(null);
  useEffect(() => {
    if (!ref.current) return;
    const chart = echarts.init(ref.current, null, { renderer: 'svg' });
    chart.setOption(buildOption());
    return () => chart.dispose();
  }, []);
  return (
    <div
      ref={ref}
      style={{ position: 'fixed', left: 0, top: 0, width: 1154, height: 644, background: '#fff' }}
    />
  );
}
